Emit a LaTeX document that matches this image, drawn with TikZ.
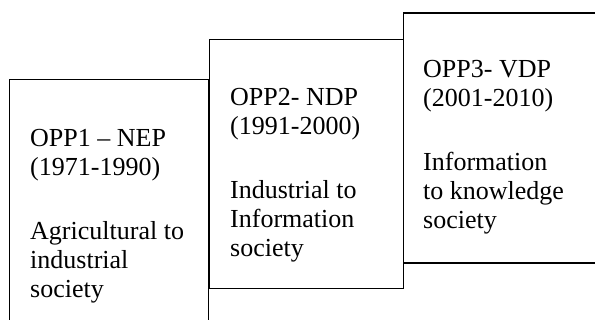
\documentclass[tikz,border=0pt]{standalone}
\usepackage{fontspec}
\setmainfont{Liberation Serif}
\usepackage{tikz}
\usetikzlibrary{positioning}

\begin{document}
\begin{tikzpicture}[
  x=1pt, y=1pt,
  plan/.style={draw, line width=1.4pt, fill=white, rectangle, inner sep=0pt, anchor=north west},
  plantext/.style={inner sep=0pt, anchor=north west, align=left, font=\fontsize{26}{29}\selectfont}
]
\useasboundingbox (0,0) rectangle (595,-320);
\clip (0,0) rectangle (595,-320);
\node[plan, minimum width=199pt, minimum height=260pt] (opp1) at (9,-79) {};
\node[plan, minimum width=194pt, minimum height=249pt] (opp2) at (209,-39) {};
\node[plan, minimum width=200pt, minimum height=250pt] (opp3) at (403,-12.5) {};
\node[plantext, below right=50pt and 21pt of opp1.north west] (opp1text)
  {OPP1 – NEP\\(1971-1990)\\[35pt]Agricultural to\\industrial\\society};
\node[plantext, below right=49pt and 21pt of opp2.north west] (opp2text)
  {OPP2- NDP\\(1991-2000)\\[35pt]Industrial to\\Information\\society};
\node[plantext, below right=48pt and 20pt of opp3.north west] (opp3text)
  {OPP3- VDP\\(2001-2010)\\[35pt]Information\\to knowledge\\society};
\end{tikzpicture}
\end{document}
